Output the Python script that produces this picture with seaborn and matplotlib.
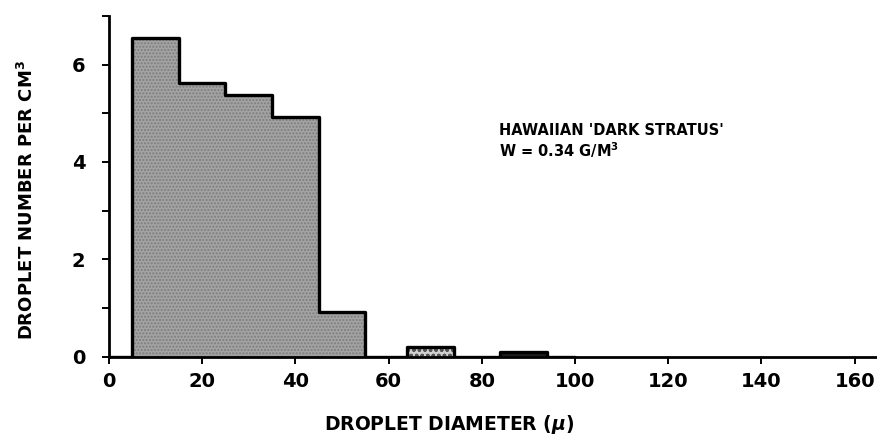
import numpy as np
import pandas as pd
import matplotlib
matplotlib.use("Agg")
import matplotlib.pyplot as plt
import seaborn as sns

# ---- data ----
bin_lo = [5, 15, 25, 35, 45, 64, 84]
bin_hi = [15, 25, 35, 45, 55, 74, 94]
number_per_cm3 = [6.55, 5.62, 5.38, 4.92, 0.92, 0.20, 0.09]
group = ["main", "main", "main", "main", "main", "light", "dark"]

x_ticks = [0, 20, 40, 60, 80, 100, 120, 140, 160]
y_ticks = [0, 1, 2, 3, 4, 5, 6, 7]
y_tick_labels = ["0", "", "2", "", "4", "", "6", ""]

annot_line1 = "HAWAIIAN 'DARK STRATUS'"
annot_line2 = r"W = 0.34 G/M$^{\mathbf{3}}$"

sns.set_style("white")
plt.rcParams["font.family"] = ["DejaVu Sans"]
plt.rcParams["font.weight"] = "bold"
plt.rcParams["mathtext.fontset"] = "dejavusans"
plt.rcParams["text.color"] = "black"
plt.rcParams["axes.labelcolor"] = "black"
plt.rcParams["xtick.color"] = "black"
plt.rcParams["ytick.color"] = "black"

df = pd.DataFrame({
    "center": [(a + b) / 2 for a, b in zip(bin_lo, bin_hi)],
    "n": number_per_cm3,
    "group": group,
})
edges = sorted(set([0] + bin_lo + bin_hi + [100]))

fig = plt.figure(figsize=(8.78, 4.41), dpi=100)
ax = fig.add_axes([0.124, 0.191, 0.876, 0.773])

fills = {"main": ("#a3a3a3", "#7d7d7d", "....."),
         "light": ("#d0d0d0", "#555555", "ooo"),
         "dark": ("#1e1e1e", "#1e1e1e", None)}
for g, (fc, hc, hatch) in fills.items():
    sub = df[df["group"] == g]
    sns.histplot(data=sub, x="center", weights="n", bins=edges, element="step",
                 fill=True, alpha=1, color=fc, linewidth=0, ax=ax)
    coll = ax.collections[-1]
    coll.set_facecolor(fc)
    if hatch:
        coll.set_hatch(hatch)
        coll.set_edgecolor(hc)
        coll.set_linewidth(0)

sns.histplot(data=df, x="center", weights="n", bins=edges, element="step",
             fill=False, color="black", linewidth=2.4, ax=ax)

ax.set_xlim(0, 165)
ax.set_ylim(0, 7.0)
ax.set_xticks(x_ticks)
ax.set_xticklabels([str(v) for v in x_ticks])
ax.set_yticks(y_ticks)
ax.set_yticklabels(y_tick_labels)

for side in ["top", "right"]:
    ax.spines[side].set_visible(False)
for side in ["left", "bottom"]:
    ax.spines[side].set_linewidth(2.0)
    ax.spines[side].set_color("black")

ax.tick_params(axis="both", direction="out", length=5, width=1.4, color="black",
               labelcolor="black", labelsize=14, pad=6, bottom=True, left=True)
for lab in ax.get_xticklabels() + ax.get_yticklabels():
    lab.set_fontweight("bold")
ax.tick_params(axis="y", pad=12)

ax.set_xlabel(r"DROPLET DIAMETER ($\mu$)", fontsize=13.5, fontweight="bold", color="black")
ax.set_ylabel(r"DROPLET NUMBER PER CM$^{\mathbf{3}}$", fontsize=13, fontweight="bold", color="black")
ax.xaxis.set_label_coords(0.443, -0.165)
ax.yaxis.set_label_coords(-0.094, 0.46)

ax.text(0.507, 0.665, annot_line1, transform=ax.transAxes, fontsize=10.5,
        fontweight="bold", va="center", ha="left", color="black")
ax.text(0.507, 0.607, annot_line2, transform=ax.transAxes, fontsize=10.5,
        fontweight="bold", va="center", ha="left", color="black")

fig.savefig("out.png", dpi=100)
